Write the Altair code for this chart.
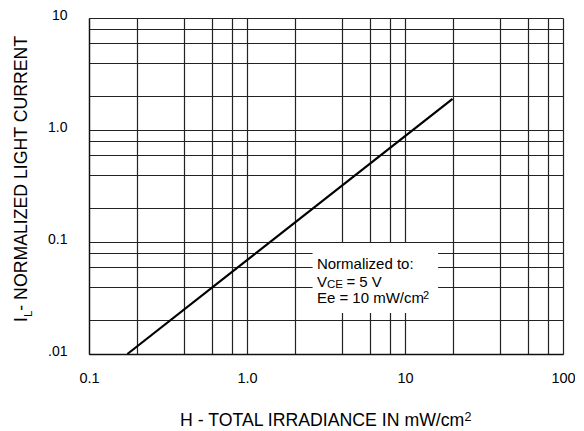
import altair as alt
import pandas as pd

# ---- data ----
x_grid = [0.1, 0.2, 0.4, 0.6, 0.8, 1, 2, 4, 6, 8, 10, 20, 40, 60, 80, 100]
y_grid = [0.01, 0.02, 0.04, 0.06, 0.08, 0.1, 0.2, 0.4, 0.6, 0.8, 1, 2, 4, 6, 8, 10]
x_tick_values = [0.1, 1, 10, 100]
x_tick_labels = ["0.1", "1.0", "10", "100"]
y_tick_values = [0.01, 0.1, 1, 10]
y_tick_labels = [".01", "0.1", "1.0", "10"]

irradiance = [0.175, 20]
light_current = [0.01, 1.9]

box_x = [2.6, 16.2]
box_y = [0.0232, 0.098]
note_x = 2.77
note_y = [0.0637, 0.0442, 0.0316]

FONT = "Liberation Sans"
NBSP = "\u00a0"


def label_expr(values, labels):
    expr = "''"
    for v, l in reversed(list(zip(values, labels))):
        expr = f"abs(datum.value - {v}) < {v} * 1e-6 ? '{l}' : ({expr})"
    return expr


xscale = alt.Scale(type="log", domain=[0.1, 100], nice=False)
yscale = alt.Scale(type="log", domain=[0.01, 10], nice=False)

xaxis = alt.Axis(values=x_grid, labelExpr=label_expr(x_tick_values, x_tick_labels),
                 grid=True, gridColor="#222", gridWidth=1.2, gridOpacity=1,
                 ticks=False, tickSize=0, domain=True, domainColor="#111", domainWidth=1.3,
                 labelPadding=17, labelFontSize=14.5, labelFont=FONT, labelColor="#000",
                 labelFlush=False, title=None)
yaxis = alt.Axis(values=y_grid, labelExpr=label_expr(y_tick_values, y_tick_labels),
                 grid=True, gridColor="#222", gridWidth=1.2, gridOpacity=1,
                 ticks=False, tickSize=0, domain=True, domainColor="#111", domainWidth=1.3,
                 labelPadding=22, labelFontSize=14, labelFont=FONT, labelColor="#000",
                 labelOffset=-3, labelFlush=False, title=None)

X = alt.X("x:Q", scale=xscale, axis=xaxis)
Y = alt.Y("y:Q", scale=yscale, axis=yaxis)

line_df = pd.DataFrame({"x": irradiance, "y": light_current})
line = alt.Chart(line_df).mark_line(color="black", strokeWidth=2.2).encode(x=X, y=Y)

box_df = pd.DataFrame({"x": [box_x[0]], "x2": [box_x[1]], "y": [box_y[0]], "y2": [box_y[1]]})
box = alt.Chart(box_df).mark_rect(color="white").encode(x=X, x2="x2", y=Y, y2="y2")


def note(text, y, dx=0, dy=0, size=15):
    df = pd.DataFrame({"x": [note_x], "y": [y], "t": [text]})
    return alt.Chart(df).mark_text(align="left", baseline="middle", font=FONT,
                                   fontSize=size, color="#000", dx=dx, dy=dy).encode(
        x=X, y=Y, text="t:N")


n1 = note("Normalized to:", note_y[0])
n2a = note("V", note_y[1])
n2b = note("CE", note_y[1], dx=10, dy=3, size=11.5)
n2c = note("= 5 V", note_y[1], dx=29.5)
n3a = note("Ee = 10 mW/cm", note_y[2])
n3b = note("2", note_y[2], dx=106, dy=-2.5, size=11)


def free_text(text, x, y, size, angle=0, align="left", baseline="alphabetic"):
    df = pd.DataFrame({"t": [text]})
    return alt.Chart(df).mark_text(align=align, baseline=baseline, font=FONT, fontSize=size,
                                   color="#000", angle=angle).encode(
        x=alt.value(x), y=alt.value(y), text="t:N")


TS = 17.7
x_t1 = free_text("H - TOTAL IRRADIANCE IN mW/cm", 91, 407.5, TS)
x_t2 = free_text("2", 375.5, 403, 12.5)

Y0 = 304
y_t1 = free_text("I", -62, Y0, TS, angle=270)
y_t2 = free_text("L", -57, Y0 - 0.278 * TS, 11.5, angle=270)
y_t3 = free_text(NBSP + "- NORMALIZED LIGHT CURRENT", -62, Y0 - 0.278 * TS - 0.556 * 11.5, TS, angle=270)

chart = alt.layer(line, box, n1, n2a, n2b, n2c, n3a, n3b, x_t1, x_t2, y_t1, y_t2, y_t3).properties(
    width=474, height=336,
    autosize=alt.AutoSizeParams(type="none"),
    padding={"left": 81, "top": 10, "right": 12, "bottom": 80},
).configure_view(stroke="#111", strokeWidth=1.3).configure(background="white")

chart.save("out.html", embed_options={"renderer": "svg", "actions": False})
